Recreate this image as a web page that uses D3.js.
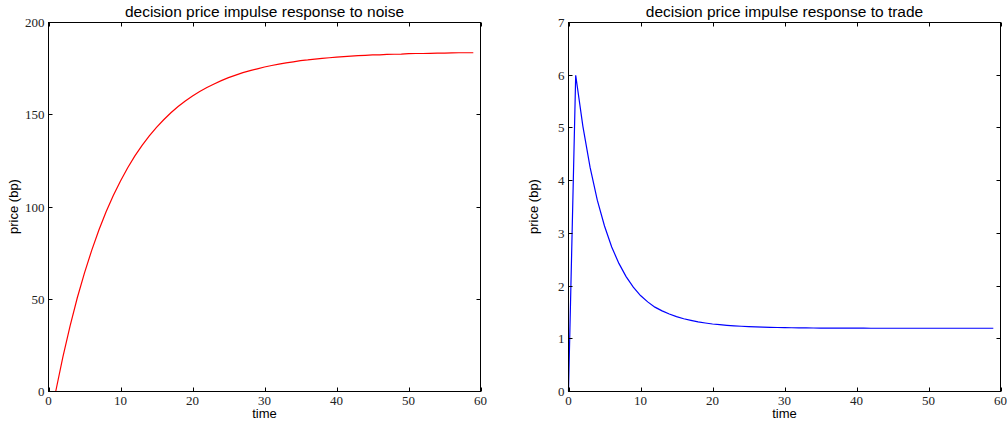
<!DOCTYPE html>
<html>
<head>
<meta charset="utf-8">
<script src="https://cdn.jsdelivr.net/npm/d3@7"></script>
<style>
  body { margin: 0; background: #fff; }
  .tick-label { font-family: "Liberation Serif", "DejaVu Serif", serif; font-size: 13px; fill: #222; }
  .title { font-family: "Liberation Sans", Arial, sans-serif; font-size: 15.5px; }
  .axis-label { font-family: "Liberation Sans", Arial, sans-serif; font-size: 13px; }
</style>
</head>
<body>
<div id="chart"></div>
<script>
// Impulse responses: noise (left) and trade (right)
const width = 1007, height = 425;
const plotTop = 22, plotBottom = 391;
const tickLen = 4;

const xTicks = [0, 10, 20, 30, 40, 50, 60];
const noiseTicks = [0, 50, 100, 150, 200];
const tradeTicks = [0, 1, 2, 3, 4, 5, 6, 7];

const noiseTime = [1, 2, 3, 4, 5, 6, 7, 8, 9, 10, 11, 12, 13, 14, 15, 16, 17, 18, 19, 20,
  21, 22, 23, 24, 25, 26, 27, 28, 29, 30, 31, 32, 33, 34, 35, 36, 37, 38, 39, 40,
  41, 42, 43, 44, 45, 46, 47, 48, 49, 50, 51, 52, 53, 54, 55, 56, 57, 58, 59];
const noiseResp = [0, 18.8, 35.6, 50.8, 64.3, 76.5, 87.5, 97.4, 106.2, 114.1,
  121.3, 127.7, 133.4, 138.6, 143.2, 147.3, 151.1, 154.5, 157.5, 160.2,
  162.6, 164.8, 166.7, 168.5, 170.1, 171.5, 172.8, 173.9, 174.9, 175.9,
  176.7, 177.4, 178.1, 178.7, 179.3, 179.7, 180.2, 180.6, 180.9, 181.2,
  181.5, 181.8, 182.0, 182.2, 182.4, 182.5, 182.7, 182.8, 182.9, 183.1,
  183.2, 183.2, 183.3, 183.4, 183.4, 183.5, 183.6, 183.6, 183.6];

const tradeTime = [0, 1, 2, 3, 4, 5, 6, 7, 8, 9, 10, 11, 12, 13, 14, 15, 16, 17, 18, 19, 20,
  21, 22, 23, 24, 25, 26, 27, 28, 29, 30, 31, 32, 33, 34, 35, 36, 37, 38, 39, 40,
  41, 42, 43, 44, 45, 46, 47, 48, 49, 50, 51, 52, 53, 54, 55, 56, 57, 58, 59];
const tradeResp = [0, 6.00, 5.03, 4.25, 3.63, 3.14, 2.74, 2.43, 2.18, 1.98, 1.82,
  1.70, 1.60, 1.53, 1.47, 1.42, 1.38, 1.35, 1.32, 1.30, 1.28,
  1.268, 1.256, 1.246, 1.238, 1.231, 1.226, 1.221, 1.217, 1.214, 1.211,
  1.209, 1.207, 1.206, 1.205, 1.204, 1.203, 1.202, 1.202, 1.201, 1.201,
  1.201, 1.200, 1.200, 1.200, 1.200, 1.200, 1.200, 1.200, 1.200, 1.200,
  1.200, 1.200, 1.200, 1.200, 1.200, 1.200, 1.200, 1.200, 1.200];

const panels = [
  {left: 48.5, right: 480.5, title: "decision price impulse response to noise",
   t: noiseTime, v: noiseResp, yMax: 200, yTicks: noiseTicks, color: "#ff0000"},
  {left: 568.5, right: 1000.5, title: "decision price impulse response to trade",
   t: tradeTime, v: tradeResp, yMax: 7, yTicks: tradeTicks, color: "#0000ff"}
];

const svg = d3.select("#chart").append("svg")
  .attr("width", width).attr("height", height);

panels.forEach(p => {
  const x = d3.scaleLinear().domain([0, 60]).range([p.left, p.right]);
  const y = d3.scaleLinear().domain([0, p.yMax]).range([plotBottom + 0.5, plotTop + 0.5]);
  const g = svg.append("g");

  // data line
  const line = d3.line().x((d, i) => x(p.t[i])).y(d => y(d));
  g.append("path").datum(p.v).attr("fill", "none").attr("stroke", p.color)
    .attr("stroke-width", 1.2).attr("d", line);

  // frame
  g.append("rect").attr("x", p.left).attr("y", plotTop + 0.5)
    .attr("width", p.right - p.left).attr("height", plotBottom - plotTop)
    .attr("fill", "none").attr("stroke", "#000").attr("stroke-width", 1);

  // inward ticks on all four sides
  xTicks.forEach(t => {
    const xx = Math.round(x(t)) + 0.5;
    g.append("line").attr("x1", xx).attr("x2", xx).attr("y1", plotBottom + 0.5).attr("y2", plotBottom + 0.5 - tickLen).attr("stroke", "#000");
    g.append("line").attr("x1", xx).attr("x2", xx).attr("y1", plotTop + 0.5).attr("y2", plotTop + 0.5 + tickLen).attr("stroke", "#000");
    g.append("text").attr("class", "tick-label").attr("x", x(t)).attr("y", plotBottom + 14)
      .attr("text-anchor", "middle").text(t);
  });
  p.yTicks.forEach(v => {
    const yy = Math.round(y(v) - 0.5) + 0.5;
    g.append("line").attr("x1", p.left).attr("x2", p.left + tickLen).attr("y1", yy).attr("y2", yy).attr("stroke", "#000");
    g.append("line").attr("x1", p.right).attr("x2", p.right - tickLen).attr("y1", yy).attr("y2", yy).attr("stroke", "#000");
    g.append("text").attr("class", "tick-label").attr("x", p.left - 4).attr("y", y(v))
      .attr("dy", "0.35em").attr("text-anchor", "end").text(v);
  });

  g.append("text").attr("class", "title").attr("x", (p.left + p.right) / 2).attr("y", 17)
    .attr("text-anchor", "middle").text(p.title);
  g.append("text").attr("class", "axis-label").attr("x", (p.left + p.right) / 2).attr("y", 418)
    .attr("text-anchor", "middle").text("time");
  g.append("text").attr("class", "axis-label").attr("transform", "rotate(-90)")
    .attr("x", -(plotTop + plotBottom) / 2).attr("y", p.left - 31)
    .attr("text-anchor", "middle").text("price (bp)");
});
</script>
</body>
</html>
